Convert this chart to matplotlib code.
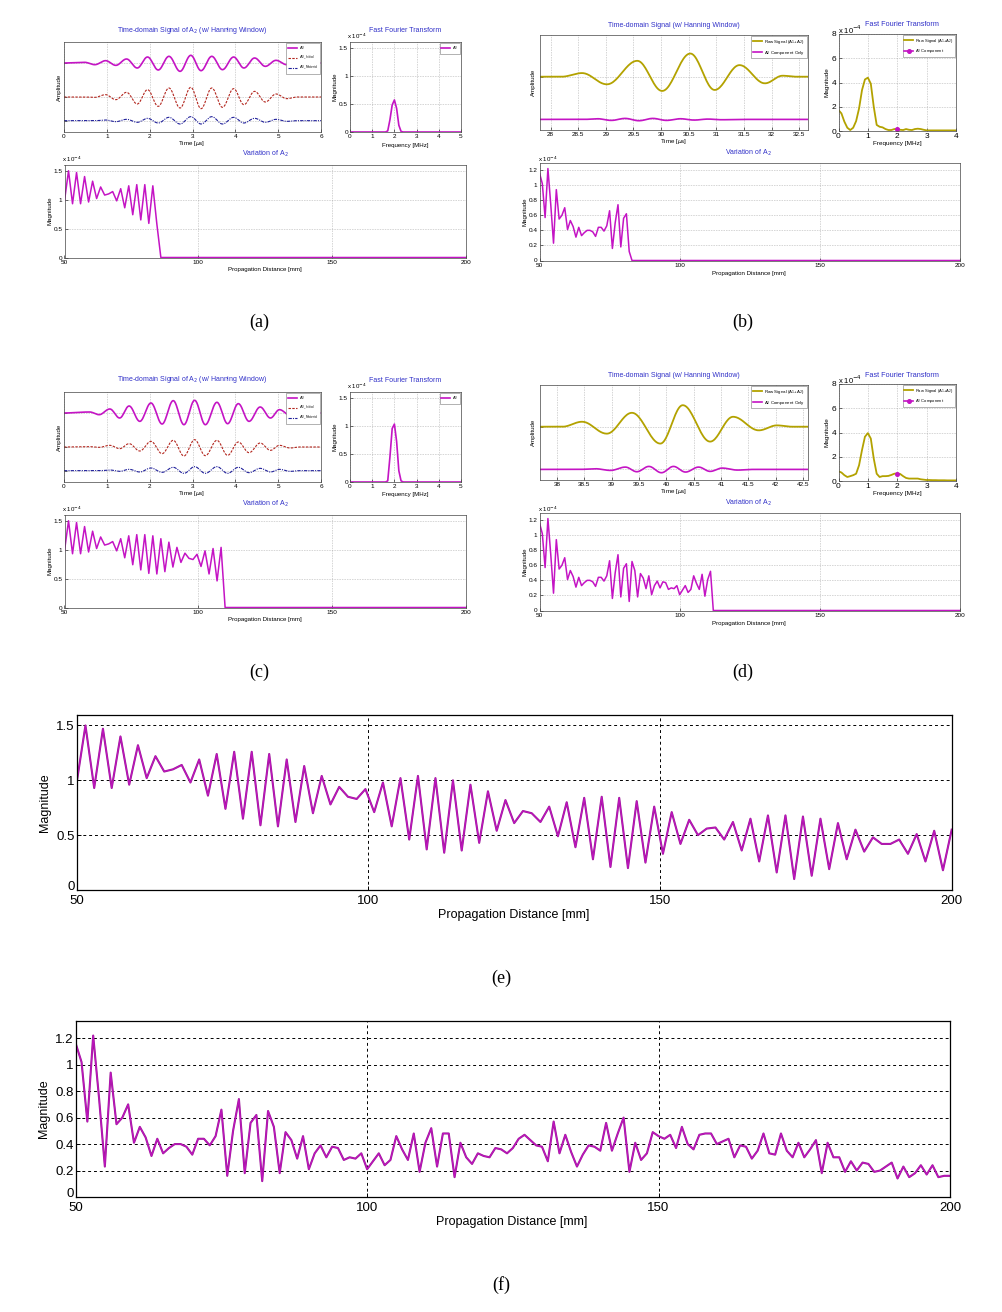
import numpy as np
import matplotlib
matplotlib.use("Agg")
import matplotlib.pyplot as plt
from matplotlib.lines import Line2D
from matplotlib.transforms import ScaledTranslation

# ---------------- data ----------------
# (e) variation of A2 vs propagation distance, 1.5 mm step, magnitude x1e-4
dist_e = np.linspace(50, 200, 101)
e_vals = [0.98, 1.50, 0.93, 1.47, 0.93, 1.40, 0.96, 1.32, 1.02, 1.22,
          1.08, 1.10, 1.14, 0.98, 1.19, 0.86, 1.24, 0.74, 1.26, 0.65,
          1.26, 0.59, 1.24, 0.58, 1.19, 0.62, 1.13, 0.70, 1.04, 0.78,
          0.94, 0.85, 0.83, 0.92, 0.71, 0.98, 0.58, 1.02, 0.46, 1.04,
          0.37, 1.02, 0.34, 1.00, 0.36, 0.96, 0.43, 0.90, 0.54, 0.82,
          0.61, 0.72, 0.70, 0.62, 0.76, 0.49, 0.80, 0.39, 0.84, 0.28,
          0.85, 0.21, 0.84, 0.20, 0.81, 0.25, 0.76, 0.33, 0.71, 0.42,
          0.64, 0.50, 0.56, 0.57, 0.46, 0.62, 0.36, 0.65, 0.26, 0.68,
          0.16, 0.68, 0.10, 0.67, 0.13, 0.65, 0.19, 0.61, 0.28, 0.55,
          0.35, 0.48, 0.42, 0.42, 0.46, 0.33, 0.51, 0.26, 0.54, 0.18,
          0.55]

# (f) variation of A2 vs propagation distance, 1 mm step, magnitude x1e-4
dist_f = np.linspace(50, 200, 151)
f_vals = [1.16, 1.02, 0.57, 1.22, 0.75, 0.23, 0.94, 0.55, 0.60, 0.70,
          0.41, 0.53, 0.45, 0.31, 0.44, 0.33, 0.37, 0.40, 0.40, 0.38,
          0.32, 0.44, 0.44, 0.39, 0.46, 0.66, 0.16, 0.50, 0.74, 0.18,
          0.56, 0.62, 0.12, 0.65, 0.53, 0.18, 0.49, 0.43, 0.29, 0.46,
          0.21, 0.33, 0.39, 0.30, 0.38, 0.37, 0.28, 0.30, 0.29, 0.33,
          0.21, 0.27, 0.33, 0.24, 0.28, 0.46, 0.36, 0.28, 0.48, 0.19,
          0.41, 0.52, 0.23, 0.48, 0.48, 0.15, 0.41, 0.30, 0.25, 0.33,
          0.31, 0.30, 0.37, 0.36, 0.33, 0.37, 0.44, 0.47, 0.43, 0.39,
          0.38, 0.27, 0.57, 0.33, 0.47, 0.34, 0.23, 0.32, 0.39, 0.38,
          0.35, 0.56, 0.35, 0.48, 0.60, 0.19, 0.41, 0.28, 0.33, 0.49,
          0.46, 0.44, 0.47, 0.37, 0.53, 0.40, 0.36, 0.47, 0.48, 0.48,
          0.40, 0.42, 0.44, 0.30, 0.39, 0.38, 0.29, 0.35, 0.48, 0.33,
          0.32, 0.48, 0.35, 0.30, 0.41, 0.30, 0.36, 0.43, 0.18, 0.41,
          0.30, 0.30, 0.19, 0.27, 0.20, 0.26, 0.25, 0.19, 0.20, 0.23,
          0.26, 0.14, 0.23, 0.15, 0.18, 0.24, 0.17, 0.24, 0.15, 0.16,
          0.16]

# how many measured points each snapshot (a)-(d) shows before dropping to zero
n_a, n_c = 24, 40
n_b, n_d = 33, 62

# time-domain extrema (a): time [us], amplitude (arb.)
a_t = [0, 0.48, 0.72, 0.97, 1.21, 1.46, 1.71, 1.95, 2.2, 2.45, 2.71, 2.96,
       3.2, 3.45, 3.7, 3.96, 4.2, 4.45, 4.7, 4.95, 5.2, 5.45, 6.0]
a_A2 = [0, 0.02, -0.05, 0.07, -0.07, 0.12, -0.15, 0.18, -0.21, 0.20, -0.25,
        0.23, -0.23, 0.20, -0.20, 0.18, -0.15, 0.15, -0.10, 0.08, -0.05, 0, 0]
a_init = [0, 0, -0.01, 0.07, -0.08, 0.14, -0.21, 0.22, -0.28, 0.27, -0.33,
          0.29, -0.35, 0.27, -0.31, 0.25, -0.23, 0.17, -0.15, 0.09, -0.05, 0, 0]
a_mat = [0, 0, 0, 0.02, -0.03, 0.04, -0.05, 0.07, -0.07, 0.10, -0.10, 0.12,
         -0.10, 0.12, -0.10, 0.10, -0.07, 0.07, -0.05, 0.04, -0.02, 0, 0]

# time-domain extrema (c)
c_t = [0, 0.6, 0.82, 1.07, 1.3, 1.52, 1.77, 2.03, 2.29, 2.55, 2.8, 3.05,
       3.3, 3.57, 3.82, 4.07, 4.32, 4.58, 4.82, 5.03, 5.28, 5.5, 6.0]
c_A2 = [0, 0.03, -0.05, 0.12, -0.15, 0.21, -0.25, 0.30, -0.33, 0.37, -0.35,
        0.38, -0.35, 0.32, -0.32, 0.28, -0.25, 0.18, -0.15, 0.10, -0.07, 0, 0]
c_init = [0, 0.01, -0.01, 0.05, -0.05, 0.10, -0.12, 0.17, -0.20, 0.20, -0.27,
          0.22, -0.26, 0.20, -0.25, 0.15, -0.17, 0.12, -0.10, 0.05, -0.03, 0, 0]
c_mat = [0, 0, 0, 0.02, -0.02, 0.04, -0.04, 0.08, -0.05, 0.10, -0.08, 0.12,
         -0.08, 0.12, -0.08, 0.10, -0.06, 0.07, -0.04, 0.04, -0.02, 0, 0]

# FFT of A2, 0..5 MHz step 0.1, x1e-4
freq5 = np.linspace(0, 5, 51)
fft_a = [0.0] * 17 + [0.02, 0.22, 0.48, 0.57, 0.42, 0.12, 0.01] + [0.0] * 27
fft_c = [0.0] * 17 + [0.02, 0.45, 0.95, 1.03, 0.72, 0.20, 0.02] + [0.0] * 27

# (b) raw signal / A2 component extrema
b_t = [27.8, 28.2, 28.57, 29.02, 29.57, 30.02, 30.53, 30.97, 31.42, 31.88,
       32.2, 32.45, 32.66]
b_raw = [0, 0, 0.11, -0.23, 0.48, -0.43, 0.70, -0.40, 0.35, -0.20, 0.03, 0, 0]
b2_t = [27.8, 28.6, 28.85, 29.1, 29.35, 29.6, 29.85, 30.1, 30.35, 30.6,
        30.85, 31.1, 31.4, 32.66]
b_comp = [0, 0, 0.02, -0.03, 0.03, -0.04, 0.03, -0.03, 0.02, -0.02, 0.01,
          -0.01, 0, 0]

# (d) raw signal / A2 component extrema
d_t = [37.68, 38.1, 38.46, 38.91, 39.37, 39.89, 40.3, 40.8, 41.22, 41.69,
       42.02, 42.3, 42.59]
d_raw = [0, 0, 0.15, -0.21, 0.42, -0.51, 0.65, -0.45, 0.30, -0.11, 0.04, 0, 0]
d2_t = [37.68, 38.4, 38.7, 38.98, 39.25, 39.46, 39.68, 39.91, 40.13, 40.35,
        40.59, 40.8, 41.02, 41.3, 41.6, 42.59]
d_comp = [0, 0, 0.02, -0.03, 0.07, -0.07, 0.09, -0.10, 0.09, -0.08, 0.07,
          -0.06, 0.04, -0.02, 0, 0]

# FFT of raw signal, 0..4 MHz step 0.1, x1e-4
freq4 = np.linspace(0, 4, 41)
fft_b = [1.73, 1.45, 0.77, 0.27, 0.08, 0.27, 0.82, 1.86, 3.37, 4.25,
         4.40, 3.90, 2.00, 0.50, 0.35, 0.30, 0.16, 0.08, 0.08, 0.16,
         0.16, 0.10, 0.08, 0.16, 0.10, 0.08, 0.16, 0.19, 0.16, 0.10,
         0.05, 0.05, 0.05, 0.05, 0.05, 0.05, 0.05, 0.05, 0.05, 0.05, 0.05]
fft_d = [0.80, 0.70, 0.48, 0.33, 0.40, 0.48, 0.60, 1.30, 2.55, 3.65,
         3.95, 3.50, 1.85, 0.60, 0.33, 0.40, 0.40, 0.42, 0.50, 0.60,
         0.62, 0.58, 0.40, 0.25, 0.20, 0.20, 0.20, 0.20, 0.14, 0.11,
         0.08, 0.08, 0.07, 0.07, 0.06, 0.06, 0.06, 0.05, 0.05, 0.05, 0.05]
a2_mark_b = 0.15
a2_mark_d = 0.55

# ---------------- style ----------------
MAG = '#c414c4'
MAG_D = '#9c1a98'
OLIVE = '#b3a200'
RED = '#b3261e'
BLUE = '#20209a'
TBLUE = '#3030c8'
SANS = 'Liberation Sans'

W, H = 1002, 1312
fig = plt.figure(figsize=(W / 100, H / 100), dpi=100)
fig.patch.set_facecolor('white')


def add_ax(l, t, r, b):
    return fig.add_axes([l / W, 1 - b / H, (r - l) / W, (b - t) / H])


def ftext(x, y, s, **kw):
    kw.setdefault('ha', 'center')
    kw.setdefault('va', 'center')
    kw.setdefault('family', SANS)
    return fig.text(x / W, 1 - y / H, s, **kw)


def wave(tk, vk, n=24):
    # smooth half-cosine strokes between the read extrema
    ts, ys = [], []
    for i in range(len(tk) - 1):
        s = np.linspace(0, 1, n, endpoint=False)
        ts.append(tk[i] + (tk[i + 1] - tk[i]) * s)
        ys.append(vk[i] + (vk[i + 1] - vk[i]) * (1 - np.cos(np.pi * s)) / 2)
    ts.append([tk[-1]])
    ys.append([vk[-1]])
    return np.concatenate(ts), np.concatenate(ys)


def small_style(ax, fs=4.6):
    ax.tick_params(direction='in', length=2, width=0.4, labelsize=fs, pad=1.5)
    for lab in ax.get_xticklabels() + ax.get_yticklabels():
        lab.set_family(SANS)
    for sp in ax.spines.values():
        sp.set_linewidth(0.5)
        sp.set_color('#444444')
    ax.grid(True, ls=':', lw=0.45, color='#9a9a9a')


def fmt(v):
    return ('%g' % v)


def variation(ax, x, y, yt, ymax):
    ax.plot(x, y, color=MAG, lw=1.1)
    ax.set_xlim(50, 200)
    ax.set_ylim(0, ymax)
    ax.set_xticks([50, 100, 150, 200])
    ax.set_xticklabels(['50', '100', '150', '200'])
    ax.set_yticks(yt)
    ax.set_yticklabels([fmt(v) for v in yt])
    small_style(ax)


def time_panel(ax, curves, xlim, ylim, yt, xt):
    for (tk, vk, off, kw) in curves:
        tt, yy = wave(tk, vk)
        ax.plot(tt, yy + off, **kw)
    ax.set_xlim(*xlim)
    ax.set_ylim(*ylim)
    ax.set_yticks(yt)
    ax.set_yticklabels([])
    ax.set_xticks(xt)
    ax.set_xticklabels([fmt(v) for v in xt])
    small_style(ax)


def leg(ax, handles, labels, fs=3.3, spacing=0.45):
    lg = ax.legend(handles, labels, loc='upper right',
                   handlelength=2.2, borderpad=0.35, labelspacing=spacing,
                   handletextpad=0.4, framealpha=1, fancybox=False,
                   borderaxespad=0.3, prop={'family': SANS, 'size': fs})
    lg.get_frame().set_linewidth(0.4)
    lg.get_frame().set_edgecolor('#777777')


def panel_ac(dy, t, A2, ini, mat, fft, var_n, tag):
    # time domain
    ax = add_ax(64, 42 + dy, 321, 132 + dy)
    curves = [(t, A2, 0.0, dict(color=MAG, lw=1.2)),
              (t, ini, -1.02, dict(color=RED, lw=0.8, ls=(0, (2.2, 1.2)))),
              (t, mat, -1.73, dict(color=BLUE, lw=0.8, ls=(0, (3, 1, 1, 1))))]
    time_panel(ax, curves, (0, 6), (-2.07, 0.63), [-1.73, -1.02, 0.0],
               [0, 1, 2, 3, 4, 5, 6])
    hs = [Line2D([], [], color=MAG, lw=1.2),
          Line2D([], [], color=RED, lw=0.8, ls=(0, (2.2, 1.2))),
          Line2D([], [], color=BLUE, lw=0.8, ls=(0, (3, 1, 1, 1)))]
    leg(ax, hs, [r'A$_2$', r'A$_{2\_Initial}$', r'A$_{2\_Material}$'], fs=3.0)
    ftext(192, 30 + dy, r'Time-domain Signal of A$_2$ (w/ Hanning Window)',
          fontsize=5, color=TBLUE)
    ftext(192, 143 + dy, r'Time [$\mu$s]', fontsize=4.4)
    ftext(59, 87 + dy, 'Amplitude', fontsize=4.4, rotation=90)

    # FFT
    ax = add_ax(350, 42 + dy, 461, 132 + dy)
    ax.plot(freq5, fft, color=MAG, lw=1.2)
    ax.set_xlim(0, 5)
    ax.set_ylim(0, 1.6)
    ax.set_xticks([0, 1, 2, 3, 4, 5])
    ax.set_yticks([0, 0.5, 1, 1.5])
    ax.set_yticklabels(['0', '0.5', '1', '1.5'])
    small_style(ax)
    leg(ax, [Line2D([], [], color=MAG, lw=1.2)], [r'A$_2$'], fs=3.0)
    ftext(405, 31 + dy, 'Fast Fourier Transform', fontsize=5, color=TBLUE)
    ftext(357, 36 + dy, r'x 10$^{-4}$', fontsize=4.4)
    ftext(405, 145 + dy, 'Frequency [MHz]', fontsize=4.4)
    ftext(335, 87 + dy, 'Magnitude', fontsize=4.4, rotation=90)

    # variation
    yv = list(e_vals[:var_n]) + [0.0] * (len(e_vals) - var_n)
    ax = add_ax(64.5, 165 + dy, 466, 257.5 + dy)
    variation(ax, dist_e, yv, [0, 0.5, 1, 1.5], 1.6)
    ftext(265, 154 + dy, r'Variation of A$_2$', fontsize=5, color=TBLUE)
    ftext(72, 159.5 + dy, r'x 10$^{-4}$', fontsize=4.4)
    ftext(265, 270 + dy, 'Propagation Distance [mm]', fontsize=4.4)
    ftext(50, 211 + dy, 'Magnitude', fontsize=4.4, rotation=90)

    ftext(259, 322 + dy, tag, fontsize=13, family='Liberation Serif')


def panel_bd(dy, t, raw, t2, comp, xlim, xt, fft, mark, var_n, tag):
    ax = add_ax(539.5, 35 + dy, 808, 130 + dy)
    curves = [(t, raw, 0.0, dict(color=OLIVE, lw=1.3)),
              (t2, comp, -1.29, dict(color=MAG, lw=1.2))]
    time_panel(ax, curves, xlim, (-1.61, 1.26), [-1.29, 0.0], xt)
    hs = [Line2D([], [], color=OLIVE, lw=1.3), Line2D([], [], color=MAG, lw=1.2)]
    leg(ax, hs, [r'Raw Signal (A$_1$+A$_2$)', r'A$_2$ Component Only'],
        fs=3.2, spacing=0.6)
    ftext(674, 25.5 + dy, 'Time-domain Signal (w/ Hanning Window)',
          fontsize=5, color=TBLUE)
    ftext(674, 142 + dy, r'Time [$\mu$s]', fontsize=4.4)
    ftext(533, 82 + dy, 'Amplitude', fontsize=4.4, rotation=90)

    ax = add_ax(838.5, 34 + dy, 956, 131 + dy)
    ax.plot(freq4, fft, color=OLIVE, lw=1.3)
    ax.plot([2.0], [mark], color=MAG, marker='o', ms=2.6, lw=0)
    ax.set_xlim(0, 4)
    ax.set_ylim(0, 8)
    ax.set_xticks([0, 1, 2, 3, 4])
    ax.set_yticks([0, 2, 4, 6, 8])
    small_style(ax, fs=6.0)
    hs = [Line2D([], [], color=OLIVE, lw=1.3),
          Line2D([], [], color=MAG, lw=1.2, marker='o', ms=2.6)]
    leg(ax, hs, [r'Raw Signal (A$_1$+A$_2$)', r'A$_2$ Component'], fs=3.0,
        spacing=0.6)
    ftext(902, 25 + dy, 'Fast Fourier Transform', fontsize=5.2, color=TBLUE)
    ftext(850, 29.5 + dy, r'x 10$^{-4}$', fontsize=5.5)
    ftext(897, 144 + dy, 'Frequency [MHz]', fontsize=4.6)
    ftext(827, 82 + dy, 'Magnitude', fontsize=4.6, rotation=90)

    yv = list(f_vals[:var_n]) + [0.0] * (len(f_vals) - var_n)
    ax = add_ax(539.5, 162.5 + dy, 960, 260.5 + dy)
    variation(ax, dist_f, yv, [0, 0.2, 0.4, 0.6, 0.8, 1, 1.2], 1.3)
    ftext(748, 152.5 + dy, r'Variation of A$_2$', fontsize=5, color=TBLUE)
    ftext(548, 159.5 + dy, r'x 10$^{-4}$', fontsize=4.4)
    ftext(749, 273 + dy, 'Propagation Distance [mm]', fontsize=4.4)
    ftext(525, 212 + dy, 'Magnitude', fontsize=4.4, rotation=90)

    ftext(743, 322 + dy, tag, fontsize=13, family='Liberation Serif')


panel_ac(0, a_t, a_A2, a_init, a_mat, fft_a, n_a, '(a)')
panel_ac(350, c_t, c_A2, c_init, c_mat, fft_c, n_c, '(c)')
panel_bd(0, b_t, b_raw, b2_t, b_comp, (27.8, 32.66),
         [28, 28.5, 29, 29.5, 30, 30.5, 31, 31.5, 32, 32.5], fft_b, a2_mark_b, n_b, '(b)')
panel_bd(350, d_t, d_raw, d2_t, d_comp, (37.68, 42.59),
         [38, 38.5, 39, 39.5, 40, 40.5, 41, 41.5, 42, 42.5], fft_d, a2_mark_d, n_d, '(d)')


# ---------------- big panels (e), (f) ----------------
def big_panel(l, t, r, b, x, y, yt, ymax, tag, tag_y):
    ax = add_ax(l, t, r, b)
    ax.plot(x, y, color=MAG_D, lw=1.5)
    ax.plot(x, y, color=MAG, lw=0.8, alpha=0.85)
    ax.set_xlim(50, 200)
    ax.set_ylim(0, ymax)
    ax.set_xticks([50, 100, 150, 200])
    ax.set_yticks(yt)
    ax.set_yticklabels([fmt(v) for v in yt])
    ax.tick_params(direction='in', length=3, width=0.7, labelsize=9.5)
    ax.tick_params(axis='x', pad=3.6)
    ax.tick_params(axis='y', pad=1.5)
    for lab in ax.get_xticklabels() + ax.get_yticklabels():
        lab.set_family(SANS)
    # lift the y "0" a touch so it sits just above the "50"
    zero = ax.get_yticklabels()[0]
    zero.set_transform(zero.get_transform() +
                       ScaledTranslation(0, 3.5 / 72, fig.dpi_scale_trans))
    for sp in ax.spines.values():
        sp.set_linewidth(0.9)
        sp.set_color('black')
    ax.grid(True, color='black', lw=0.7, ls=(0, (3, 3)))
    cx = (l + r) / 2
    ftext(cx - 1, b + 25, 'Propagation Distance [mm]', fontsize=9)
    ftext(l - 32, (t + b) / 2, 'Magnitude', fontsize=9, rotation=90)
    ftext(501, tag_y, tag, fontsize=13, family='Liberation Serif')


big_panel(76.7, 714.5, 951.7, 890, dist_e, e_vals, [0, 0.5, 1, 1.5], 1.6, '(e)', 978)
big_panel(75.7, 1021, 950, 1197, dist_f, f_vals,
          [0, 0.2, 0.4, 0.6, 0.8, 1, 1.2], 1.33, '(f)', 1285)

fig.savefig('out.png', dpi=100)
